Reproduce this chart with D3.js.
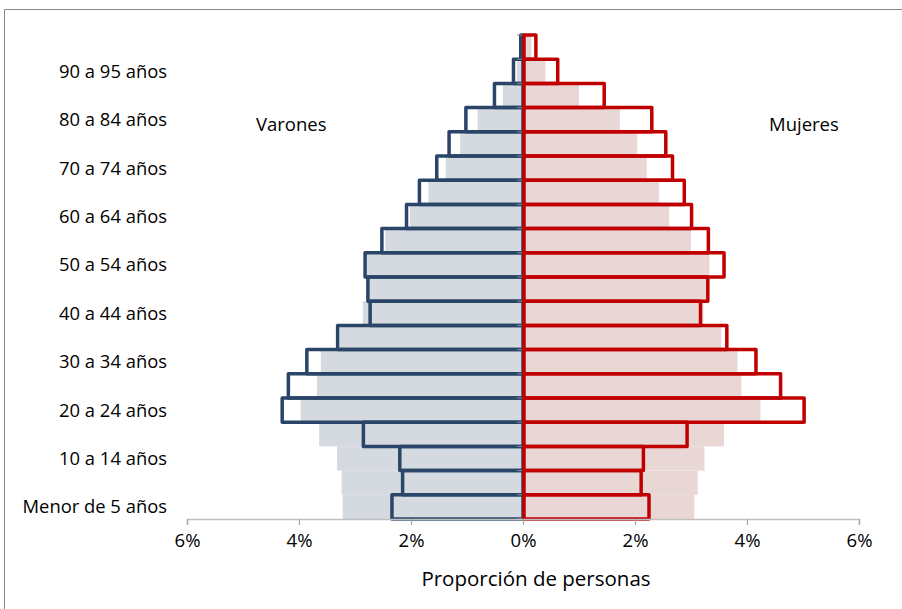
<!DOCTYPE html>
<html>
<head>
<meta charset="utf-8">
<script src="https://cdn.jsdelivr.net/npm/d3@7"></script>
<style>
  html, body { margin: 0; padding: 0; background: #ffffff; }
  svg { display: block; }
  text { font-family: "Open Sans", "Noto Sans", sans-serif; fill: #000; }
</style>
</head>
<body>
<div id="chart"></div>
<script>
// ---------- data (bottom to top) ----------
const categories = [
  "Menor de 5 años", "5 a 9 años", "10 a 14 años", "15 a 19 años", "20 a 24 años",
  "25 a 29 años", "30 a 34 años", "35 a 39 años", "40 a 44 años", "45 a 49 años",
  "50 a 54 años", "55 a 59 años", "60 a 64 años", "65 a 69 años", "70 a 74 años",
  "75 a 79 años", "80 a 84 años", "85 a 89 años", "90 a 95 años", "95 y más"
];
const labeledCategories = [
  "Menor de 5 años", "10 a 14 años", "20 a 24 años", "30 a 34 años", "40 a 44 años",
  "50 a 54 años", "60 a 64 años", "70 a 74 años", "80 a 84 años", "90 a 95 años"
];
// filled background bars (%)
const varonesFondo = [3.22, 3.24, 3.32, 3.64, 3.97, 3.68, 3.61, 3.27, 2.86, 2.75,
                      2.79, 2.46, 2.02, 1.69, 1.38, 1.12, 0.81, 0.36, 0.11, 0.03];
const mujeresFondo = [3.06, 3.12, 3.24, 3.59, 4.24, 3.90, 3.83, 3.54, 3.22, 3.28,
                      3.33, 3.00, 2.61, 2.43, 2.21, 2.04, 1.73, 1.00, 0.40, 0.15];
// outlined bars (%)
const varonesContorno = [2.34, 2.15, 2.20, 2.85, 4.30, 4.19, 3.86, 3.31, 2.73, 2.77,
                         2.82, 2.52, 2.08, 1.85, 1.54, 1.32, 1.02, 0.51, 0.17, 0.04];
const mujeresContorno = [2.25, 2.11, 2.15, 2.93, 5.02, 4.60, 4.16, 3.64, 3.17, 3.30,
                         3.59, 3.31, 3.01, 2.88, 2.67, 2.55, 2.30, 1.45, 0.62, 0.23];
const xTicks = [-6, -4, -2, 0, 2, 4, 6];

// ---------- layout ----------
const W = 902, H = 609;
const svg = d3.select("#chart").append("svg").attr("width", W).attr("height", H);

// outer chart border
svg.append("path")
  .attr("d", "M4.5,620 L4.5,9.5 L910,9.5")
  .attr("fill", "none").attr("stroke", "#878787").attr("stroke-width", 1);

const x = d3.scaleLinear().domain([-6, 6]).range([187, 859]);
const y = d3.scaleBand().domain(categories.slice().reverse()).range([35, 519]).padding(0);

const colMenFill = "#d5dae1", colWomFill = "#e9d7d6";
const colMen = "#2a4568", colWom = "#c00000";

// background filled bars
svg.append("g").selectAll("rect").data(categories).join("rect")
  .attr("x", (d, i) => x(-varonesFondo[i]))
  .attr("y", d => y(d))
  .attr("width", (d, i) => x(0) - x(-varonesFondo[i]))
  .attr("height", y.bandwidth())
  .attr("fill", colMenFill);
svg.append("g").selectAll("rect").data(categories).join("rect")
  .attr("x", x(0))
  .attr("y", d => y(d))
  .attr("width", (d, i) => x(mujeresFondo[i]) - x(0))
  .attr("height", y.bandwidth())
  .attr("fill", colWomFill);

// outlined bars
svg.append("g").selectAll("rect").data(categories).join("rect")
  .attr("x", (d, i) => x(-varonesContorno[i]))
  .attr("y", d => y(d))
  .attr("width", (d, i) => x(0) - x(-varonesContorno[i]))
  .attr("height", y.bandwidth())
  .attr("fill", "none").attr("stroke", colMen).attr("stroke-width", 3.5)
  .attr("stroke-linejoin", "round");

// y-axis ticks (gray) at 0
const yTickPositions = categories.map(c => y(c)).concat([y.range()[1]]);
svg.append("g").selectAll("line").data(yTickPositions).join("line")
  .attr("x1", x(0) - 6).attr("x2", x(0))
  .attr("y1", d => d).attr("y2", d => d)
  .attr("stroke", "#8a8a8a").attr("stroke-width", 1);

svg.append("g").selectAll("rect").data(categories).join("rect")
  .attr("x", x(0) + 1)
  .attr("y", d => y(d))
  .attr("width", (d, i) => x(mujeresContorno[i]) - x(0) - 1)
  .attr("height", y.bandwidth())
  .attr("fill", "none").attr("stroke", colWom).attr("stroke-width", 3.5)
  .attr("stroke-linejoin", "round");

// x axis
const xAxis = svg.append("g").attr("transform", "translate(0,519)")
  .call(d3.axisBottom(x).tickValues(xTicks).tickSize(6).tickPadding(9)
    .tickFormat(d => Math.abs(d) + "%"));
xAxis.select(".domain").attr("stroke", "#bfbfbf").attr("stroke-width", 1.5);
xAxis.selectAll(".tick line").attr("stroke", "#a6a6a6").attr("stroke-width", 1.2);
xAxis.selectAll(".tick text")
  .style("font-family", "'Open Sans', sans-serif")
  .style("font-size", "18.5px").attr("fill", "#000");

// category labels
svg.append("g").selectAll("text").data(labeledCategories).join("text")
  .attr("x", 167)
  .attr("y", d => y(d) + y.bandwidth() / 2 + 6.5)
  .attr("text-anchor", "end")
  .style("font-size", "18.4px")
  .text(d => d);

// side labels
svg.append("text").attr("x", 256).attr("y", 131).style("font-size", "18.5px").text("Varones");
svg.append("text").attr("x", 769).attr("y", 131).style("font-size", "18.5px").text("Mujeres");

// axis title
svg.append("text").attr("x", x(0) + 13).attr("y", 586).attr("text-anchor", "middle")
  .style("font-size", "20.5px").text("Proporción de personas");
</script>
</body>
</html>
